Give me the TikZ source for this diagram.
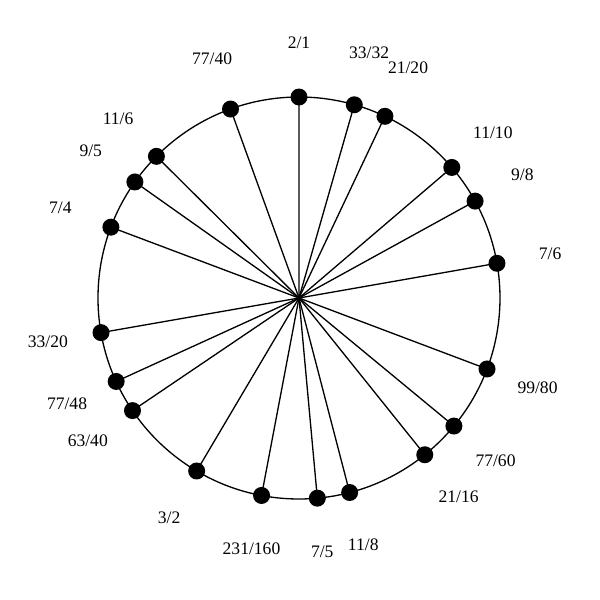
\documentclass[tikz,border=0pt]{standalone}
\usepackage{fontspec}
\setmainfont{Liberation Serif}
\begin{document}
\begin{tikzpicture}[x=0.02cm,y=0.02cm,
  spoke/.style={line width=0.75pt},
  ring/.style={line width=0.75pt},
  dot/.style={circle,fill=black,inner sep=0pt,minimum size=0.34cm},
  ratio/.style={font=\fontsize{10}{12}\selectfont,inner sep=0pt}]
\useasboundingbox (-299,-302) rectangle (301,298);
\node[coordinate] (c) at (0,0) {};
\draw[ring] (c) circle (201);
\foreach \n/\d [count=\i] in {2/1,33/32,21/20,11/10,9/8,7/6,99/80,77/60,21/16,11/8,7/5,231/160,3/2,63/40,77/48,33/20,7/4,9/5,11/6,77/40}{
  \pgfmathsetmacro{\ang}{90-360*ln(\n/\d)/ln(2)}
  \node[coordinate] (p\i) at (\ang:201) {};
  \draw[spoke] (c) -- (p\i);
  \node[dot] (d\i) at (p\i) {};
  \node[ratio] (l\i) at (\ang:255) {\n/\d};
}
\end{tikzpicture}
\end{document}
